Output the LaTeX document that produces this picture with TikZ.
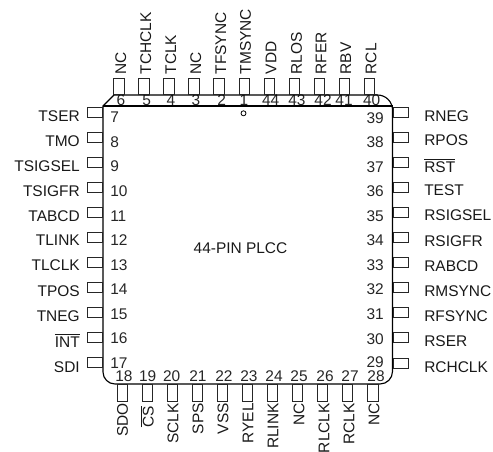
\documentclass[tikz,border=0pt]{standalone}
\usepackage{fontspec}
\setmainfont{Liberation Sans}
\tikzset{
  x=0.75pt,y=-0.75pt,
  pinbox/.style={draw=black!85,line width=0.7pt,fill=none,inner sep=0pt},
  body/.style={draw=black,line width=0.85pt},
  sig/.style={font=\fontsize{11.6pt}{13pt}\selectfont,inner sep=0pt,text=black!90},
  num/.style={font=\fontsize{11.6pt}{13pt}\selectfont,inner sep=0pt,text=black!85},
}
\newcommand{\ov}[1]{$\overline{\hbox{#1}}$}
\begin{document}
\begin{tikzpicture}
\useasboundingbox (0,0) rectangle (493,452);
% numbers first so the body line passes over them
\foreach \n/\p/\x in {a/6/121,b/5/146.7,c/4/171,d/3/196,e/2/221.6,f/1/244,g/44/270.7,h/43/297,i/42/323,j/41/344,k/40/371.7}{
  \node[num] (topn\n) at (\x,100.5) {\p};
}
% body
\draw[body] (103,106) -- (392.5,106);
\draw[body] (103,106) -- (114,95) -- (377.5,95) arc[start angle=-90,end angle=0,radius=15] -- (392.5,371.5) arc[start angle=0,end angle=90,radius=12.5] -- (115,384) arc[start angle=90,end angle=180,radius=12] -- cycle;
% top pins
\foreach \n/\s/\x/\lx in {a/NC/119/120.7,b/TCHCLK/144/145.7,c/TCLK/169/170.7,d/NC/194/195.7,e/TFSYNC/219/220.7,f/TMSYNC/244.5/245.5,g/VDD/269.5/271,h/RLOS/294.5/296.5,i/RFER/319.5/321,j/RBV/344.5/345.7,k/RCL/369.5/371}{
  \node[pinbox,minimum width=10.5*0.75pt,minimum height=16*0.75pt,anchor=south] (top\n) at (\x,95) {};
  \node[sig,rotate=90,anchor=west] (tops\n) at (\lx,74.5) {\s};
}
% left pins
\foreach \p/\s/\y/\ly/\ny in {7/TSER/112/115.7/117.5,8/TMO/137/140.7/142,9/TSIGSEL/162/165.7/166.5,10/TSIGFR/187/190.7/191,11/TABCD/212/215.7/216.5,12/TLINK/237/240.5/240.5,13/TLCLK/262/265.5/265,14/TPOS/287/291/289,15/TNEG/312/316/314.5,16/\ov{INT}/337.5/340.5/338.5,17/SDI/362.5/367/363}{
  \node[pinbox,minimum width=15*0.75pt,minimum height=10*0.75pt,anchor=east] (l\p) at (103,\y) {};
  \node[sig,anchor=east] (ls\p) at (80,\ly) {\s};
  \node[num,anchor=west] (ln\p) at (110,\ny) {\p};
}
% right pins
\foreach \p/\s/\y/\ly/\ny in {39/RNEG/112.5/115.7/117.7,38/RPOS/137.5/140.5/142,37/\ov{RST}/162.5/165.5/166.7,36/TEST/187.5/190.5/191,35/RSIGSEL/212.5/215.5/216.5,34/RSIGFR/237.5/240.7/240,33/RABCD/262.5/265.7/265,32/RMSYNC/287.5/290.7/289,31/RFSYNC/312.5/315.7/314,30/RSER/337.5/341.5/338.7,29/RCHCLK/363/366.7/362}{
  \node[pinbox,minimum width=15*0.75pt,minimum height=10*0.75pt,anchor=west] (r\p) at (392.5,\y) {};
  \node[sig,anchor=west] (rs\p) at (424,\ly) {\s};
  \node[num,anchor=east] (rn\p) at (384,\ny) {\p};
}
% bottom pins
\foreach \n/\p/\s/\x/\lx/\ly/\nx in {a/18/SDO/122.3/122.5/403/124,b/19/\ov{CS}/147.3/147/405.5/147.7,c/20/SCLK/172.3/173/403/171.7,d/21/SPS/197.5/198/403/198,e/22/VSS/222.5/223/403/224,f/23/RYEL/247.5/248/403/249,g/24/RLINK/272.3/273/403/274,h/25/NC/297.5/299/403/299,i/26/RLCLK/322.7/324/403/325,j/27/RCLK/347.5/349/403/350,k/28/NC/373/374/403/376}{
  \node[pinbox,minimum width=10.5*0.75pt,minimum height=17*0.75pt,anchor=north] (bot\n) at (\x,384) {};
  \node[sig,rotate=90,anchor=east] (bots\n) at (\lx,\ly) {\s};
  \node[num] (botn\n) at (\nx,375.7) {\p};
}
\node[draw,circle,minimum size=5*0.75pt,inner sep=0pt,line width=0.6pt] (dot) at (243.5,113.3) {};
\node[sig] (lab) at (240.5,248) {44-PIN PLCC};
\end{tikzpicture}
\end{document}
